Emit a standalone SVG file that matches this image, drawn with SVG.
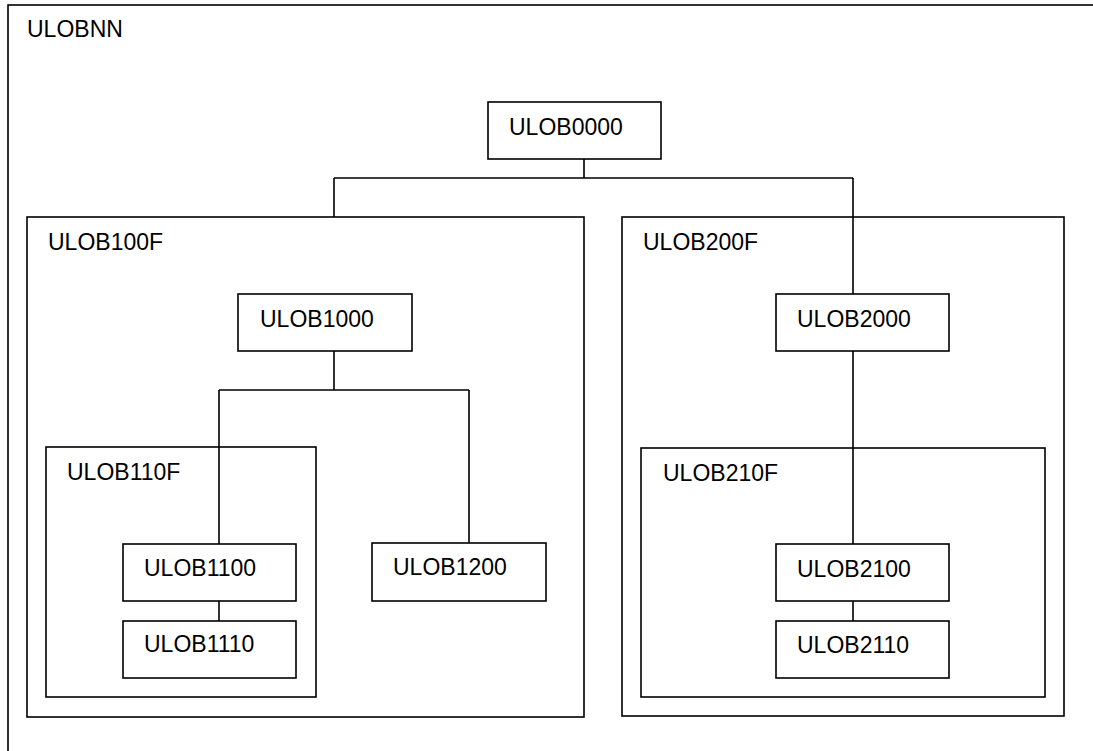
<svg xmlns="http://www.w3.org/2000/svg" width="1093" height="751" viewBox="0 0 1093 751">
<style>
.c{fill:none;stroke:#000;stroke-width:1.6}
.n{fill:#fff;stroke:#000;stroke-width:1.6}
.e{fill:none;stroke:#000;stroke-width:1.6}
text{font-family:"Liberation Sans",Arial,sans-serif;font-size:23px;fill:#000}
</style>
<rect width="1093" height="751" fill="#fff"/>
<g id="ULOBNN"><rect class="c" x="8" y="5" width="1110" height="780"/><text x="27" y="37">ULOBNN</text></g>
<g id="ULOB100F"><rect class="c" x="27" y="217" width="557" height="500"/><text x="48" y="250">ULOB100F</text></g>
<g id="ULOB200F"><rect class="c" x="622" y="217" width="442" height="499"/><text x="643" y="250">ULOB200F</text></g>
<g id="ULOB110F"><rect class="c" x="46" y="447" width="270" height="250"/><text x="67" y="480">ULOB110F</text></g>
<g id="ULOB210F"><rect class="c" x="641" y="448" width="404" height="249"/><text x="663" y="481">ULOB210F</text></g>
<g id="connectors">
<path class="e" d="M584,159V178M334,178H853M334,178V217M853,178V294"/>
<path class="e" d="M334,351V390M219,390H469M219,390V544M469,390V543"/>
<path class="e" d="M219,601V621"/>
<path class="e" d="M853,351V544M853,601V621"/>
</g>
<g id="ULOB0000"><rect class="n" x="488" y="102" width="173" height="57"/><text x="509" y="135">ULOB0000</text></g>
<g id="ULOB1000"><rect class="n" x="238" y="294" width="174" height="57"/><text x="260" y="327">ULOB1000</text></g>
<g id="ULOB2000"><rect class="n" x="776" y="294" width="173" height="57"/><text x="797" y="327">ULOB2000</text></g>
<g id="ULOB1100"><rect class="n" x="123" y="544" width="173" height="57"/><text x="144" y="576">ULOB1100</text></g>
<g id="ULOB1110"><rect class="n" x="123" y="621" width="173" height="57"/><text x="144" y="652">ULOB1110</text></g>
<g id="ULOB1200"><rect class="n" x="372" y="543" width="174" height="58"/><text x="393" y="575">ULOB1200</text></g>
<g id="ULOB2100"><rect class="n" x="776" y="544" width="173" height="57"/><text x="797" y="577">ULOB2100</text></g>
<g id="ULOB2110"><rect class="n" x="776" y="621" width="173" height="57"/><text x="797" y="653">ULOB2110</text></g>
</svg>
